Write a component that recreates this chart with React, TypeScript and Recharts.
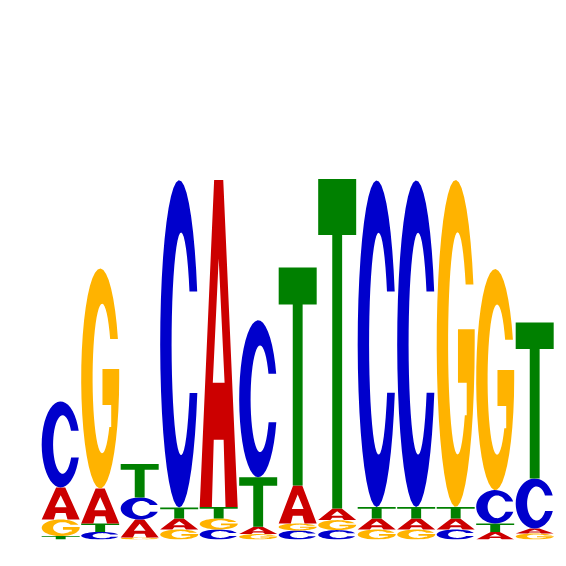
import { BarChart, Bar, XAxis, YAxis } from 'recharts'

// letters of each column, bottom to top, and their heights in bits
const positions = ['1', '2', '3', '4', '5', '6', '7', '8', '9', '10', '11', '12', '13']
const stackLetters = [
  ['T', 'G', 'A', 'C'],
  ['C', 'T', 'A', 'G'],
  ['G', 'A', 'C', 'T'],
  ['G', 'A', 'T', 'C'],
  ['C', 'G', 'T', 'A'],
  ['G', 'A', 'T', 'C'],
  ['C', 'G', 'A', 'T'],
  ['C', 'G', 'A', 'T'],
  ['G', 'A', 'T', 'C'],
  ['G', 'A', 'T', 'C'],
  ['C', 'A', 'T', 'G'],
  ['A', 'T', 'C', 'G'],
  ['G', 'A', 'C', 'T'],
]
const stackBits = [
  [0.017, 0.083, 0.16, 0.43],
  [0.038, 0.042, 0.175, 1.1],
  [0.01, 0.09, 0.11, 0.167],
  [0.05, 0.055, 0.055, 1.637],
  [0.05, 0.055, 0.058, 1.635],
  [0.027, 0.037, 0.247, 0.785],
  [0.045, 0.035, 0.19, 1.09],
  [0.047, 0.05, 0.058, 1.648],
  [0.05, 0.055, 0.058, 1.632],
  [0.05, 0.055, 0.058, 1.632],
  [0.05, 0.055, 0.058, 1.635],
  [0.038, 0.042, 0.167, 1.105],
  [0.03, 0.025, 0.25, 0.78],
]

const COLORS: Record<string, string> = { A: '#CC0000', C: '#0000CC', G: '#FFB300', T: '#008000' }

const rows = positions.map((pos, i) => {
  const row: Record<string, string | number> = { pos }
  stackLetters[i].forEach((l, k) => {
    row['l' + k] = l
    row['h' + k] = stackBits[i][k]
  })
  return row
})

type Pt = [number, number]

function arc(cx: number, cy: number, rx: number, ry: number, a0: number, a1: number, n = 40): Pt[] {
  const pts: Pt[] = []
  for (let i = 0; i <= n; i++) {
    const a = a0 + ((a1 - a0) * i) / n
    pts.push([cx + rx * Math.cos(a), cy - ry * Math.sin(a)])
  }
  return pts
}

// glyph outlines in a unit box, y pointing down
function glyph(letter: string): Pt[][] {
  const TAU = Math.PI * 2
  if (letter === 'T') {
    return [[[0, 0], [1, 0], [1, 0.17], [0.63, 0.17], [0.63, 1], [0.37, 1], [0.37, 0.17], [0, 0.17]]]
  }
  if (letter === 'A') {
    return [
      [[0, 1], [0.38, 0], [0.62, 0], [1, 1], [0.68, 1], [0.63, 0.795], [0.37, 0.795], [0.32, 1]],
      [[0.5, 0.24], [0.655, 0.62], [0.345, 0.62]],
    ]
  }
  if (letter === 'C') {
    const outer = arc(0.5, 0.5, 0.5, 0.5, Math.asin(0.32), TAU - Math.asin(0.3))
    const inner = arc(0.55, 0.5, 0.25, 0.34, TAU - Math.asin(0.15 / 0.34), Math.asin(0.16 / 0.34))
    return [[...outer, ...inner]]
  }
  // G
  const outer = arc(0.5, 0.5, 0.5, 0.5, Math.asin(0.36), TAU)
  const bar: Pt[] = [[1, 0.457], [0.56, 0.457], [0.56, 0.62], [0.79, 0.62], [0.79, 0.72]]
  const inner = arc(0.55, 0.5, 0.25, 0.34, TAU - Math.asin(0.22 / 0.34), Math.asin(0.18 / 0.34))
  return [[...outer, ...bar, ...inner]]
}

function Letter(props: any) {
  const { x, y, width, height, letter } = props
  if (!letter || !height || height <= 0) return null
  const d = glyph(letter)
    .map(poly => 'M' + poly.map(([u, v]) => `${(x + u * width).toFixed(2)},${(y + v * height).toFixed(2)}`).join('L') + 'Z')
    .join('')
  return <path d={d} fill={COLORS[letter]} fillRule="evenodd" />
}

export default function App() {
  return (
    <div style={{ position: 'absolute', left: 0, top: 0, width: 566, height: 566, background: '#fff' }}>
      <BarChart
        width={566}
        height={566}
        data={rows}
        margin={{ top: 139.5, right: 11.4, bottom: 26.5, left: 41.1 }}
        barCategoryGap="1.5%"
      >
        <XAxis dataKey="pos" hide />
        <YAxis hide domain={[0, 2]} allowDataOverflow />
        {[0, 1, 2, 3].map(k => (
          <Bar
            key={k}
            dataKey={'h' + k}
            stackId="logo"
            isAnimationActive={false}
            shape={(p: any) => <Letter {...p} letter={p.payload?.['l' + k]} />}
          />
        ))}
      </BarChart>
    </div>
  )
}
